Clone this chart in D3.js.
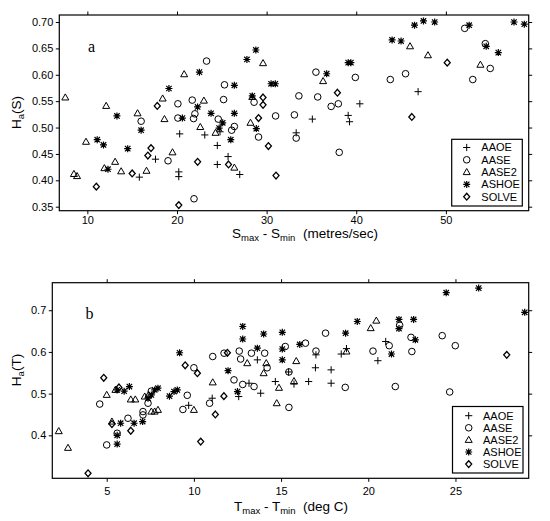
<!DOCTYPE html>
<html lang="en">
<head>
<meta charset="utf-8">
<title>Ha vs range</title>
<script src="https://cdn.jsdelivr.net/npm/d3@7"></script>
<style>
  body { margin: 0; background: #fff; }
  .tick text { font-family: "Liberation Sans", Arial, sans-serif; font-size: 11px; fill: #000; }
  .tick line { stroke: #000; stroke-width: 1; }
  .lbl { font-family: "Liberation Sans", Arial, sans-serif; font-size: 13.5px; fill: #000; }
  .leg { font-family: "Liberation Sans", Arial, sans-serif; font-size: 11px; fill: #000; }
  .tag { font-family: "Liberation Serif", "Times New Roman", serif; font-size: 16px; fill: #000; }
</style>
</head>
<body>
<div id="chart"></div>
<script>
// series names and marker kinds, shared by both panels
var seriesNames = ["AAOE", "AASE", "AASE2", "ASHOE", "SOLVE"];
var markerKinds = ["plus", "circle", "triangle", "asterisk", "diamond"];

// panel a : Ha(S) against Smax - Smin (metres/sec)
var aaoeS = [[15.8,0.406],[17.6,0.440],[20.3,0.488],[20.2,0.416],[20.2,0.407],[23.1,0.486],[24.5,0.466],
  [24.5,0.430],[24.8,0.492],[25.7,0.445],[27.0,0.411],[33.3,0.490],[35.1,0.516],[39.1,0.523],[39.25,0.511],
  [40.4,0.545],[46.9,0.568]];
var aaseS = [[16.0,0.512],[19.0,0.437],[20.1,0.545],[20.1,0.518],[21.7,0.552],[21.85,0.517],[22.0,0.526],
  [21.9,0.365],[23.3,0.626],[25.3,0.581],[25.2,0.553],[24.6,0.516],[26.4,0.502],[26.1,0.495],[28.6,0.548],
  [29.1,0.482],[31.0,0.522],[33.1,0.524],[33.6,0.560],[33.3,0.480],[35.5,0.605],[35.7,0.558],[37.2,0.540],
  [38.0,0.545],[38.1,0.453],[39.9,0.595],[43.8,0.591],[45.5,0.602],[52.1,0.688],[54.4,0.659],[53.0,0.591],
  [54.95,0.612]];
var aase2S = [[7.54,0.557],[9.85,0.473],[8.5,0.412],[8.85,0.408],[12.1,0.541],[11.9,0.423],[13.1,0.435],
  [13.77,0.417],[15.6,0.527],[16.6,0.418],[18.4,0.555],[18.6,0.516],[19.5,0.453],[20.8,0.601],[23.0,0.551],
  [22.6,0.501],[24.3,0.490],[26.4,0.424],[28.2,0.509],[28.4,0.558],[29.6,0.622],[36.3,0.588],[46.0,0.654],
  [48.0,0.637],[53.85,0.619]];
var ashoeS = [[11.1,0.477],[11.8,0.467],[12.3,0.421],[13.3,0.522],[14.5,0.460],[16.0,0.495],[19.1,0.574],
  [20.6,0.518],[22.5,0.605],[22.3,0.539],[23.8,0.527],[25.1,0.509],[24.7,0.499],[26.0,0.477],[26.4,0.580],
  [26.4,0.527],[27.8,0.629],[28.8,0.647],[28.4,0.560],[28.85,0.498],[30.5,0.583],[30.97,0.583],[36.7,0.602],
  [39.1,0.623],[39.4,0.623],[44.0,0.666],[45.0,0.664],[46.5,0.694],[47.5,0.702],[48.75,0.700],[52.6,0.694],
  [54.5,0.654],[55.85,0.642],[57.6,0.700],[58.75,0.696]];
var solveS = [[11.0,0.388],[15.0,0.413],[17.1,0.461],[16.75,0.447],[17.8,0.541],[20.2,0.353],[22.3,0.435],
  [25.75,0.430],[29.1,0.518],[29.6,0.557],[29.6,0.543],[30.2,0.465],[31.05,0.409],[37.9,0.566],[46.2,0.520],
  [50.15,0.623]];

// panel b : Ha(T) against Tmax - Tmin (deg C)
var aaoeT = [[9.7,0.472],[11.05,0.489],[12.57,0.493],[13.16,0.525],[13.64,0.581],[13.83,0.501],[14.67,0.529],
  [15.43,0.552],[15.74,0.523],[16.58,0.529],[16.97,0.562],[17.0,0.593],[17.87,0.557],[17.87,0.525],
  [18.45,0.595],[18.75,0.608],[20.55,0.579],[21.0,0.625]];
var aaseT = [[4.6,0.475],[5.0,0.377],[5.6,0.405],[6.22,0.441],[7.08,0.457],[7.08,0.449],[7.37,0.477],
  [7.56,0.506],[9.37,0.462],[9.62,0.496],[10.0,0.562],[10.9,0.477],[11.08,0.589],[11.73,0.597],[12.3,0.533],
  [12.6,0.602],[12.68,0.583],[12.8,0.522],[13.3,0.597],[13.45,0.517],[14.06,0.597],[14.2,0.562],[15.24,0.613],
  [15.45,0.552],[15.45,0.467],[16.4,0.621],[17.0,0.602],[17.55,0.645],[18.68,0.515],[20.27,0.602],
  [21.2,0.615],[21.55,0.517],[21.8,0.664],[22.45,0.635],[22.5,0.601],[24.24,0.639],[24.99,0.615],[24.67,0.504]];
var aase2T = [[2.25,0.410],[2.78,0.370],[5.0,0.497],[5.3,0.433],[5.5,0.509],[6.38,0.486],[6.64,0.486],
  [7.18,0.493],[7.4,0.497],[7.56,0.457],[7.75,0.457],[7.94,0.461],[10.0,0.461],[11.08,0.527],[13.06,0.573],
  [14.0,0.549],[14.15,0.573],[14.75,0.477],[14.88,0.514],[15.74,0.530],[15.87,0.578],[18.75,0.601],
  [20.14,0.657],[20.46,0.675]];
var ashoeT = [[5.6,0.379],[5.6,0.400],[5.8,0.429],[5.6,0.509],[6.0,0.506],[6.3,0.517],[6.57,0.429],
  [7.06,0.433],[7.37,0.489],[7.56,0.497],[7.75,0.509],[7.94,0.513],[8.6,0.494],[8.86,0.505],[9.05,0.509],
  [9.18,0.598],[11.96,0.555],[12.5,0.505],[12.8,0.661],[12.8,0.631],[13.64,0.609],[14.0,0.643],[15.07,0.647],
  [15.07,0.607],[15.07,0.581],[16.07,0.618],[18.7,0.645],[19.37,0.673],[21.33,0.595],[21.76,0.678],
  [21.76,0.656],[22.6,0.678],[22.7,0.629],[24.47,0.742],[26.33,0.753],[28.97,0.695]];
var solveT = [[3.93,0.309],[4.83,0.538],[5.3,0.427],[5.7,0.515],[6.38,0.411],[9.5,0.568],[10.2,0.549],
  [10.39,0.385],[11.23,0.450],[11.72,0.494],[11.92,0.598],[27.94,0.593]];

// tick values
var xTicksS = [10, 20, 30, 40, 50];
var yTicksS = [0.35, 0.40, 0.45, 0.50, 0.55, 0.60, 0.65, 0.70];
var xTicksT = [5, 10, 15, 20, 25];
var yTicksT = [0.4, 0.5, 0.6, 0.7];

var width = 550, height = 521;

var svg = d3.select("#chart").append("svg")
    .attr("width", width)
    .attr("height", height)
    .style("display", "block");

svg.append("rect").attr("width", width).attr("height", height).attr("fill", "#fff");

function markerPath(kind) {
  var p = d3.path();
  if (kind == "plus") {
    p.moveTo(-3.6, 0); p.lineTo(3.6, 0);
    p.moveTo(0, -3.6); p.lineTo(0, 3.6);
  } else if (kind == "circle") {
    p.moveTo(3.3, 0); p.arc(0, 0, 3.3, 0, 2 * Math.PI);
  } else if (kind == "triangle") {
    p.moveTo(0, -3.6); p.lineTo(3.5, 2.5); p.lineTo(-3.5, 2.5); p.closePath();
  } else if (kind == "asterisk") {
    p.moveTo(-3.5, 0); p.lineTo(3.5, 0);
    p.moveTo(0, -3.5); p.lineTo(0, 3.5);
    p.moveTo(-2.7, -2.7); p.lineTo(2.7, 2.7);
    p.moveTo(-2.7, 2.7); p.lineTo(2.7, -2.7);
  } else {
    p.moveTo(0, -3.4); p.lineTo(3, 0); p.lineTo(0, 3.4); p.lineTo(-3, 0); p.closePath();
  }
  return p.toString();
}

function markerWidth(kind) {
  return kind == "asterisk" ? 1.2 : (kind == "diamond" ? 1.3 : 1);
}

function drawPanel(cfg) {
  var x = d3.scaleLinear().domain(cfg.xDomain).range([cfg.left, cfg.right]);
  var y = d3.scaleLinear().domain(cfg.yDomain).range([cfg.bottom, cfg.top]);
  var g = svg.append("g");

  function clean(sel) { sel.select(".domain").remove(); }

  g.append("g").attr("transform", "translate(0," + cfg.bottom + ")")
    .call(d3.axisBottom(x).tickValues(cfg.xTicks).tickSize(3.5).tickSizeOuter(0).tickPadding(cfg.xPad).tickFormat(d3.format("d")))
    .call(clean);
  g.append("g").attr("transform", "translate(0," + cfg.top + ")")
    .call(d3.axisTop(x).tickValues(cfg.xTicks).tickSize(3.5).tickSizeOuter(0).tickFormat(""))
    .call(clean);
  g.append("g").attr("transform", "translate(" + cfg.left + ",0)")
    .call(d3.axisLeft(y).tickValues(cfg.yTicks).tickSize(3.5).tickSizeOuter(0).tickPadding(2.5).tickFormat(d3.format(cfg.yFmt)))
    .call(clean);
  g.append("g").attr("transform", "translate(" + cfg.right + ",0)")
    .call(d3.axisRight(y).tickValues(cfg.yTicks).tickSize(3.5).tickSizeOuter(0).tickFormat(""))
    .call(clean);

  g.append("rect")
    .attr("x", cfg.left).attr("y", cfg.top)
    .attr("width", cfg.right - cfg.left).attr("height", cfg.bottom - cfg.top)
    .attr("fill", "none").attr("stroke", "#000").attr("stroke-width", 1.2);

  cfg.series.forEach(function(data, i) {
    g.append("g").selectAll("path")
      .data(data)
      .enter().append("path")
        .attr("d", markerPath(markerKinds[i]))
        .attr("transform", function(d) { return "translate(" + x(d[0]) + "," + y(d[1]) + ")"; })
        .attr("fill", "none")
        .attr("stroke", "#000")
        .attr("stroke-width", markerWidth(markerKinds[i]));
  });

  // panel letter
  g.append("text").attr("class", "tag").attr("x", cfg.tagX).attr("y", cfg.tagY).text(cfg.tag);

  // x label with subscripts
  var xl = g.append("text").attr("class", "lbl")
    .attr("x", cfg.xLabelX).attr("y", cfg.xLabelY).attr("text-anchor", "middle");
  xl.append("tspan").text(cfg.v);
  xl.append("tspan").attr("font-size", "9.5px").attr("dy", 3).text("max");
  xl.append("tspan").attr("dy", -3).text(" - " + cfg.v);
  xl.append("tspan").attr("font-size", "9.5px").attr("dy", 3).text("min");
  xl.append("tspan").attr("dy", -3).attr("xml:space", "preserve").text("  " + cfg.unit);

  // y label
  var yl = g.append("text").attr("class", "lbl")
    .attr("transform", "translate(" + cfg.yLabelX + "," + cfg.yLabelY + ") rotate(-90)")
    .attr("text-anchor", "middle");
  yl.append("tspan").text("H");
  yl.append("tspan").attr("font-size", "9.5px").attr("dy", 3).text("a");
  yl.append("tspan").attr("dy", -3).text("(" + cfg.v + ")");

  // legend
  var L = cfg.legend;
  g.append("rect")
    .attr("x", L.x0).attr("y", L.y0).attr("width", L.x1 - L.x0).attr("height", L.y1 - L.y0)
    .attr("fill", "#fff").attr("stroke", "#000").attr("stroke-width", 1.2);
  seriesNames.forEach(function(name, i) {
    var yy = L.firstY + i * L.step;
    g.append("path")
      .attr("d", markerPath(markerKinds[i]))
      .attr("transform", "translate(" + L.symX + "," + yy + ")")
      .attr("fill", "none").attr("stroke", "#000")
      .attr("stroke-width", markerWidth(markerKinds[i]));
    g.append("text").attr("class", "leg")
      .attr("x", L.textX).attr("y", yy).attr("dy", "0.36em")
      .text(name);
  });
}

drawPanel({
  series: [aaoeS, aaseS, aase2S, ashoeS, solveS],
  xDomain: [6.87, 59.24], yDomain: [0.3424, 0.7133],
  left: 59.3, right: 528.7, top: 15, bottom: 210.7,
  xTicks: xTicksS, yTicks: yTicksS, yFmt: ".2f", xPad: 2,
  tag: "a", tagX: 88, tagY: 52,
  v: "S", unit: "(metres/sec)",
  xLabelX: 305, xLabelY: 238, yLabelX: 21, yLabelY: 112.5,
  legend: { x0: 451.7, y0: 139.3, x1: 522.3, y1: 206, firstY: 147.5, step: 12.3, symX: 466.7, textX: 481.3 }
});

drawPanel({
  series: [aaoeT, aaseT, aase2T, ashoeT, solveT],
  xDomain: [1.88, 29.2], yDomain: [0.297, 0.766],
  left: 52.3, right: 528.7, top: 282.7, bottom: 478.3,
  xTicks: xTicksT, yTicks: yTicksT, yFmt: ".1f", xPad: 5.5,
  tag: "b", tagX: 85.5, tagY: 318.7,
  v: "T", unit: "(deg C)",
  xLabelX: 291, xLabelY: 511, yLabelX: 21, yLabelY: 370,
  legend: { x0: 452.5, y0: 406.5, x1: 523, y1: 473, firstY: 415.7, step: 12.1, symX: 468.7, textX: 483 }
});
</script>
</body>
</html>
